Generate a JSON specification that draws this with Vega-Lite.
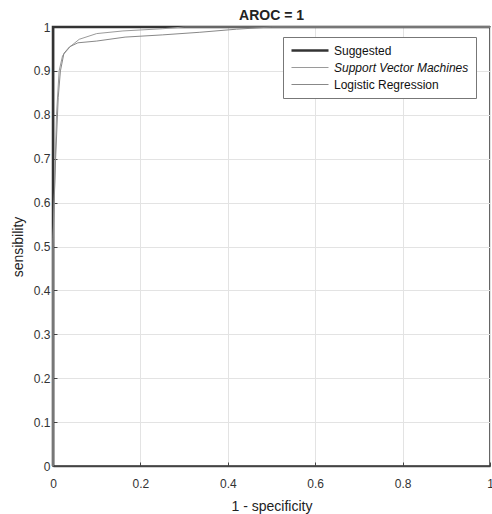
{
  "$schema": "https://vega.github.io/schema/vega-lite/v6.json",
  "autosize": "none",
  "width": 437,
  "height": 439,
  "padding": {"left": 53, "top": 27, "right": 2, "bottom": 48},
  "background": "white",
  "title": {"text": "AROC = 1", "font": "Liberation Sans", "fontSize": 14, "fontWeight": "bold", "color": "#222", "offset": -2},
  "config": {
    "view": {"stroke": "#333", "strokeWidth": 1.5},
    "font": "Liberation Sans",
    "axis": {
      "gridColor": "#e3e3e3", "gridWidth": 1,
      "domainColor": "#444", "domainWidth": 1.5,
      "tickColor": "#444", "tickSize": -4,
      "labelFont": "Liberation Sans", "labelFontSize": 12, "labelColor": "#333", "labelFlush": false,
      "titleFont": "Liberation Sans", "titleFontSize": 14, "titleColor": "#222", "titleFontWeight": "normal"
    }
  },
  "data": {"values": [
    {"s": "Suggested", "x": 0, "y": 0, "o": 0},
    {"s": "Suggested", "x": 0, "y": 1, "o": 1},
    {"s": "Suggested", "x": 1, "y": 1, "o": 2},
    {"s": "Support Vector Machines", "x": 0, "y": 0, "o": 0},
    {"s": "Support Vector Machines", "x": 0, "y": 0.5, "o": 1},
    {"s": "Support Vector Machines", "x": 0.004, "y": 0.65, "o": 2},
    {"s": "Support Vector Machines", "x": 0.008, "y": 0.8, "o": 3},
    {"s": "Support Vector Machines", "x": 0.014, "y": 0.9, "o": 4},
    {"s": "Support Vector Machines", "x": 0.022, "y": 0.935, "o": 5},
    {"s": "Support Vector Machines", "x": 0.039, "y": 0.955, "o": 6},
    {"s": "Support Vector Machines", "x": 0.06, "y": 0.972, "o": 7},
    {"s": "Support Vector Machines", "x": 0.1, "y": 0.985, "o": 8},
    {"s": "Support Vector Machines", "x": 0.16, "y": 0.991, "o": 9},
    {"s": "Support Vector Machines", "x": 0.25, "y": 0.996, "o": 10},
    {"s": "Support Vector Machines", "x": 0.3, "y": 1, "o": 11},
    {"s": "Support Vector Machines", "x": 1, "y": 1, "o": 12},
    {"s": "Logistic Regression", "x": 0, "y": 0, "o": 0},
    {"s": "Logistic Regression", "x": 0, "y": 0.52, "o": 1},
    {"s": "Logistic Regression", "x": 0.006, "y": 0.7, "o": 2},
    {"s": "Logistic Regression", "x": 0.012, "y": 0.84, "o": 3},
    {"s": "Logistic Regression", "x": 0.017, "y": 0.9, "o": 4},
    {"s": "Logistic Regression", "x": 0.025, "y": 0.94, "o": 5},
    {"s": "Logistic Regression", "x": 0.038, "y": 0.955, "o": 6},
    {"s": "Logistic Regression", "x": 0.057, "y": 0.964, "o": 7},
    {"s": "Logistic Regression", "x": 0.1, "y": 0.968, "o": 8},
    {"s": "Logistic Regression", "x": 0.165, "y": 0.977, "o": 9},
    {"s": "Logistic Regression", "x": 0.25, "y": 0.982, "o": 10},
    {"s": "Logistic Regression", "x": 0.336, "y": 0.988, "o": 11},
    {"s": "Logistic Regression", "x": 0.42, "y": 0.995, "o": 12},
    {"s": "Logistic Regression", "x": 0.5, "y": 1, "o": 13},
    {"s": "Logistic Regression", "x": 1, "y": 1, "o": 14}
  ]},
  "mark": {"type": "line", "clip": false},
  "encoding": {
    "x": {"field": "x", "type": "quantitative", "scale": {"domain": [0, 1], "nice": false},
      "axis": {"title": "1 - specificity", "values": [0, 0.2, 0.4, 0.6, 0.8, 1], "format": "~g", "labelPadding": 16, "titlePadding": 10}},
    "y": {"field": "y", "type": "quantitative", "scale": {"domain": [0, 1], "nice": false},
      "axis": {"title": "sensibility", "values": [0, 0.1, 0.2, 0.3, 0.4, 0.5, 0.6, 0.7, 0.8, 0.9, 1], "format": "~g", "labelPadding": 7, "titlePadding": 8}},
    "order": {"field": "o", "type": "quantitative"},
    "color": {"field": "s", "type": "nominal",
      "scale": {"domain": ["Suggested", "Support Vector Machines", "Logistic Regression"], "range": ["#333333", "#9a9a9a", "#888888"]},
      "legend": {"title": null, "orient": "none", "legendX": 230, "legendY": 10,
        "symbolType": "stroke", "symbolSize": 1370, "clipHeight": 13,
        "labelFont": "Liberation Sans", "labelFontSize": 12, "labelColor": "#111",
        "strokeColor": "#777", "fillColor": "white", "padding": 7, "rowPadding": 4, "labelOffset": 4,
        "encoding": {
          "labels": {"fontStyle": {"condition": {"test": "datum.label === 'Support Vector Machines'", "value": "italic"}, "value": "normal"}},
          "symbols": {"strokeWidth": {"condition": {"test": "datum.label === 'Suggested'", "value": 2.5}, "value": 1}}
        }}},
    "strokeWidth": {"field": "s", "type": "nominal",
      "scale": {"type": "ordinal", "domain": ["Suggested", "Support Vector Machines", "Logistic Regression"], "range": [2.5, 1, 1]},
      "legend": null}
  }
}
